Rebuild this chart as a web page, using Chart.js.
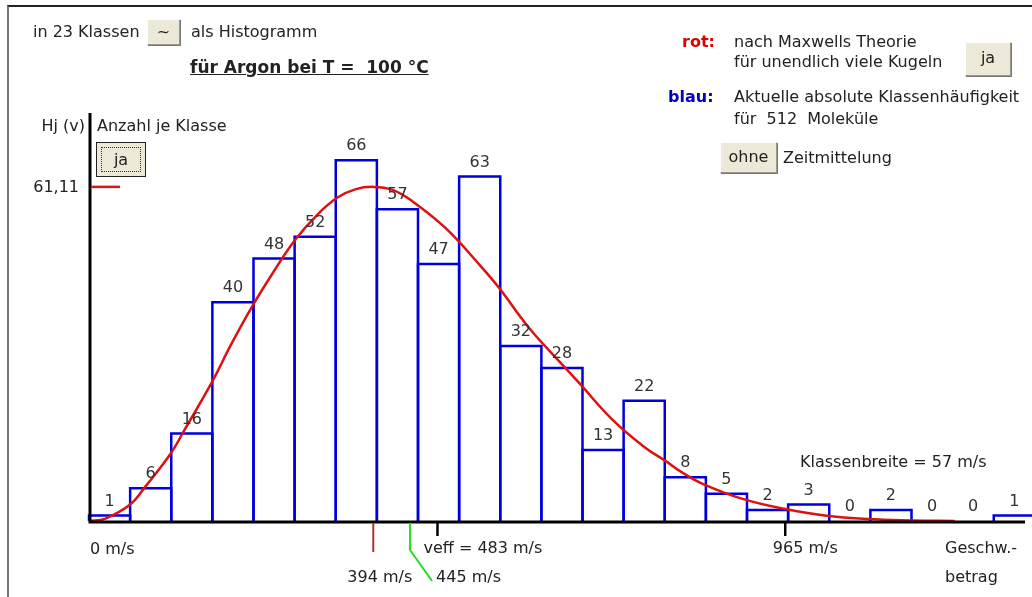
<!DOCTYPE html>
<html>
<head>
<meta charset="utf-8">
<script src="https://cdn.jsdelivr.net/npm/chart.js@4.4.1/dist/chart.umd.min.js"></script>
<style>
body{margin:0;background:#fff;font-family:"DejaVu Sans",Tahoma,sans-serif;font-size:16px;color:#222}
#wrap{position:relative;width:1032px;height:597px;overflow:hidden}
#frame{position:absolute;left:7px;top:5px;width:1100px;height:700px;border-top:2px solid #222;border-left:2px solid #777}
canvas{position:absolute;left:0;top:0}
.t{position:absolute;white-space:pre;line-height:18px}
.btn{position:absolute;box-sizing:border-box;background:#ece9d8;border:1px solid;border-color:#fff #9d9a8c #9d9a8c #fff;box-shadow:1px 1px 0 #777;text-align:center}
</style>
</head>
<body>
<div id="wrap">
  <div id="frame"></div>
  <canvas id="histo" width="1032" height="597"></canvas>

  <div class="t" style="left:33px;top:23px">in 23 Klassen</div>
  <div class="btn" style="left:147px;top:19px;width:33px;height:26px;line-height:24px">~</div>
  <div class="t" style="left:191px;top:23px">als Histogramm</div>
  <div class="t" style="left:190px;top:58px;font-size:17px;font-weight:bold;text-decoration:underline">für Argon bei T =  100 °C</div>

  <div class="t" style="left:10px;width:75px;text-align:right;top:117px">Hj (v)</div>
  <div class="t" style="left:97px;top:117px">Anzahl je Klasse</div>
  <div class="btn" style="left:96px;top:142px;width:50px;height:35px;border:1px solid #222;box-shadow:none;padding:4px"><div style="border:1px dotted #333;height:25px;line-height:23px;box-sizing:border-box">ja</div></div>

  <div class="t" style="left:682px;top:33px;font-weight:bold;color:#e00000">rot:</div>
  <div class="t" style="left:734px;top:33px">nach Maxwells Theorie</div>
  <div class="t" style="left:734px;top:53px">für unendlich viele Kugeln</div>
  <div class="btn" style="left:965px;top:42px;width:46px;height:34px;line-height:30px">ja</div>

  <div class="t" style="left:668px;top:88px;font-weight:bold;color:#0000c0">blau:</div>
  <div class="t" style="left:734px;top:88px">Aktuelle absolute Klassenhäufigkeit</div>
  <div class="t" style="left:734px;top:110px">für  512  Moleküle</div>
  <div class="btn" style="left:720px;top:142px;width:57px;height:31px;line-height:28px">ohne</div>
  <div class="t" style="left:783px;top:149px">Zeitmittelung</div>
</div>

<script>
// histogram: 23 classes, 512 molecules
const classWidth = 57;
const counts = [1, 6, 16, 40, 48, 52, 66, 57, 47, 63, 32, 28, 13, 22, 8, 5, 2, 3, 0, 2, 0, 0, 1];

// Maxwell curve (v in m/s, Hj)
const maxwellV = [0, 22, 57, 77, 113, 133, 170, 197, 225, 253, 285, 317, 345, 370, 394, 420, 448, 494, 541, 568, 610, 656, 679, 725, 771, 799, 817, 849, 907, 965, 1020, 1080, 1140, 1200];
const maxwellH = [0, 0.4, 3.0, 6.1, 12.3, 16.8, 25.3, 32.3, 39.0, 45.0, 51.3, 56.1, 59.2, 60.7, 61.11, 60.6, 58.5, 53.6, 46.9, 42.7, 35.3, 28.6, 25.3, 18.6, 13.4, 11.0, 9.3, 6.9, 4.0, 2.2, 1.0, 0.35, 0.1, 0];

// marks on the speed axis
const vPeak = 394;
const vMean = 445;
const vEff = 483;
const vTick = 965;
const peakH = 61.11;

const font = '16px "DejaVu Sans", Tahoma, sans-serif';

const overlay = {
  id: 'overlay',
  // outline the histogram bars (shared edges drawn once)
  afterDatasetDraw(chart, args) {
    if (args.index !== 0) return;
    const ctx = chart.ctx;
    ctx.save();
    ctx.strokeStyle = '#0000dd';
    ctx.lineWidth = 2.5;
    ctx.lineJoin = 'miter';
    args.meta.data.forEach((el, i) => {
      if (counts[i] === 0) return;
      const p = el.getProps(['x', 'y', 'width', 'base'], true);
      const l = p.x - p.width / 2, r = p.x + p.width / 2;
      ctx.beginPath();
      ctx.moveTo(l, p.base);
      ctx.lineTo(l, p.y);
      ctx.lineTo(r, p.y);
      ctx.lineTo(r, p.base);
      ctx.stroke();
    });
    ctx.restore();
  },
  afterDatasetsDraw(chart) {
    const ctx = chart.ctx;
    const x = chart.scales.x, y = chart.scales.y;
    const x0 = x.getPixelForValue(0);
    const y0 = y.getPixelForValue(0);
    ctx.save();
    ctx.lineCap = 'butt';

    // axes
    ctx.strokeStyle = '#000';
    ctx.lineWidth = 3;
    ctx.beginPath();
    ctx.moveTo(x0 + 1, 113);
    ctx.lineTo(x0 + 1, y0 + 1);
    ctx.lineTo(1025, y0 + 1);
    ctx.stroke();

    // bar labels
    ctx.font = font;
    ctx.fillStyle = '#333';
    ctx.textAlign = 'center';
    ctx.textBaseline = 'alphabetic';
    chart.getDatasetMeta(0).data.forEach((el, i) => {
      ctx.fillText(String(counts[i]), el.x, el.y - 10);
    });

    // peak value mark on y axis
    const yp = y.getPixelForValue(peakH);
    ctx.strokeStyle = '#d81818';
    ctx.lineWidth = 2.5;
    ctx.beginPath();
    ctx.moveTo(x0 + 2, yp);
    ctx.lineTo(x0 + 31, yp);
    ctx.stroke();
    ctx.fillStyle = '#222';
    ctx.textAlign = 'right';
    ctx.textBaseline = 'middle';
    ctx.fillText('61,11', 79, yp + 1);

    // speed marks
    const xp = x.getPixelForValue(vPeak);
    ctx.strokeStyle = '#b03030';
    ctx.lineWidth = 2;
    ctx.beginPath();
    ctx.moveTo(xp, y0 + 2);
    ctx.lineTo(xp, y0 + 31);
    ctx.stroke();

    const xm = x.getPixelForValue(vMean);
    ctx.strokeStyle = '#22dd22';
    ctx.beginPath();
    ctx.moveTo(xm, y0 + 2);
    ctx.lineTo(xm, y0 + 29);
    ctx.lineTo(xm + 22, y0 + 60);
    ctx.stroke();

    ctx.strokeStyle = '#000';
    ctx.lineWidth = 2.5;
    [vEff, vTick].forEach(v => {
      const xv = x.getPixelForValue(v);
      ctx.beginPath();
      ctx.moveTo(xv, y0 + 2);
      ctx.lineTo(xv, y0 + 15);
      ctx.stroke();
    });

    ctx.fillStyle = '#222';
    ctx.textBaseline = 'middle';
    ctx.textAlign = 'left';
    ctx.fillText('0 m/s', x0 + 1, y0 + 29);
    ctx.fillText('veff = ' + vEff + ' m/s', x.getPixelForValue(vEff) - 14, y0 + 28);
    ctx.fillText(vMean + ' m/s', xm + 26, y0 + 57);
    ctx.fillText('Geschw.-', 945, y0 + 28);
    ctx.fillText('betrag', 945, y0 + 57);
    ctx.fillText('Klassenbreite = ' + classWidth + ' m/s', 800, 463);
    ctx.textAlign = 'right';
    ctx.fillText(vPeak + ' m/s', xp + 39, y0 + 57);
    ctx.textAlign = 'center';
    ctx.fillText(vTick + ' m/s', x.getPixelForValue(vTick) + 20, y0 + 28);
    ctx.restore();
  }
};

new Chart(document.getElementById('histo'), {
  data: {
    datasets: [
      {
        type: 'bar',
        data: counts.map((c, i) => ({ x: classWidth * (i + 0.5), y: c })),
        backgroundColor: 'rgba(255,255,255,0)',
        borderWidth: 0,
        barPercentage: 1,
        categoryPercentage: 1,
        order: 2
      },
      {
        type: 'line',
        data: maxwellV.map((v, i) => ({ x: v, y: maxwellH[i] })),
        borderColor: '#dd1111',
        borderWidth: 2.5,
        pointRadius: 0,
        tension: 0.4,
        fill: false,
        order: 1
      }
    ]
  },
  options: {
    responsive: false,
    animation: false,
    layout: { padding: { left: 89, right: 0, top: 100, bottom: 76 } },
    plugins: { legend: { display: false }, tooltip: { enabled: false } },
    scales: {
      x: { type: 'linear', min: 0, max: 1307, offset: false, display: false },
      y: { type: 'linear', min: 0, max: 77, display: false }
    }
  },
  plugins: [overlay]
});
</script>
</body>
</html>
